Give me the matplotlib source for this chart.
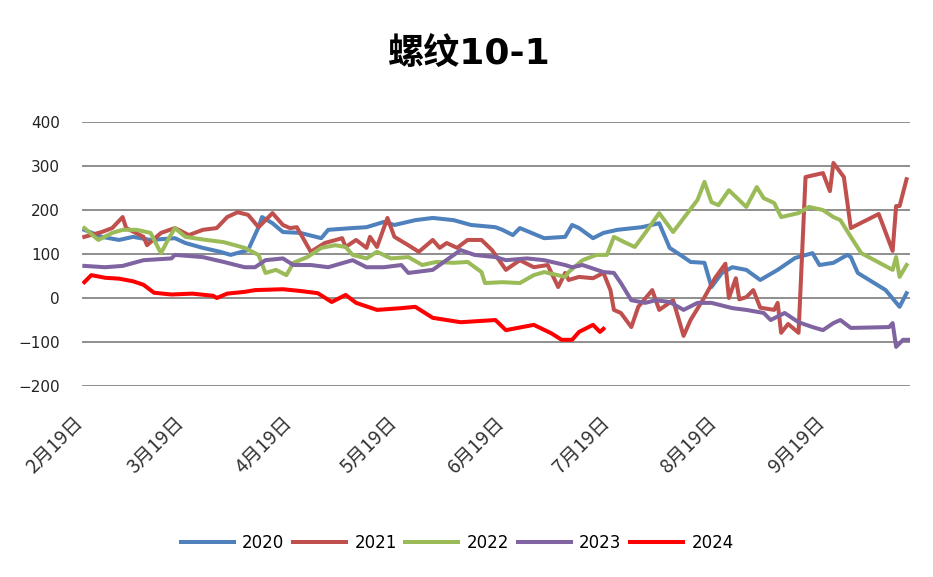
import matplotlib
matplotlib.use('Agg')
import matplotlib.pyplot as plt
import pandas as pd

# 螺纹 10-1 spread, one line per year, plotted on a shared Feb-Oct calendar
dates_2020 = ['02-18', '02-23', '02-28', '03-03', '03-08', '03-15', '03-18', '03-23', '03-28', '03-31',
              '04-05', '04-08', '04-09', '04-12', '04-15', '04-20', '04-26', '04-28', '05-05', '05-09',
              '05-14', '05-17', '05-23', '05-28', '06-03', '06-08', '06-15', '06-17', '06-20', '06-22',
              '06-29', '07-05', '07-07', '07-09', '07-13', '07-16', '07-20', '07-27', '08-01', '08-04',
              '08-08', '08-10', '08-14', '08-16', '08-19', '08-22', '08-26', '08-30', '09-04', '09-09',
              '09-14', '09-16', '09-20', '09-24', '09-25', '09-27', '10-05', '10-09', '10-11']
vals_2020 = [155, 139, 132, 139, 132, 136, 125, 114, 105, 98,
             109, 161, 184, 170, 150, 148, 136, 155, 159, 161,
             173, 166, 177, 182, 177, 166, 161, 155, 143, 159,
             136, 139, 166, 159, 136, 148, 155, 161, 170, 114,
             93, 82, 80, 25, 57, 70, 64, 41, 64, 91,
             102, 75, 80, 98, 93, 57, 18, -20, 11]

dates_2021 = ['02-18', '02-23', '02-26', '02-29', '03-01', '03-06', '03-07', '03-11', '03-15', '03-19',
              '03-23', '03-27', '03-30', '04-02', '04-05', '04-08', '04-12', '04-15', '04-17', '04-19',
              '04-23', '04-27', '05-02', '05-03', '05-06', '05-09', '05-10', '05-12', '05-15', '05-17',
              '05-21', '05-24', '05-28', '05-30', '06-01', '06-04', '06-07', '06-11', '06-14', '06-18',
              '06-22', '06-26', '06-30', '07-03', '07-05', '07-06', '07-09', '07-13', '07-16', '07-18',
              '07-19', '07-21', '07-24', '07-26', '07-30', '08-01', '08-05', '08-08', '08-10', '08-14',
              '08-17', '08-20', '08-21', '08-23', '08-24', '08-26', '08-28', '08-30', '09-03', '09-04',
              '09-05', '09-07', '09-10', '09-12', '09-17', '09-19', '09-20', '09-23', '09-25', '10-03',
              '10-07', '10-08', '10-09', '10-11']
vals_2021 = [139, 150, 159, 184, 159, 139, 120, 148, 159, 143,
             155, 159, 184, 195, 189, 161, 193, 166, 159, 161,
             105, 125, 136, 116, 132, 114, 139, 116, 182, 139,
             120, 105, 132, 114, 125, 114, 132, 132, 109, 64,
             86, 70, 75, 25, 57, 41, 48, 45, 57, 18,
             -27, -34, -66, -20, 18, -27, -5, -86, -50, 2,
             45, 78, 0, 45, -3, 2, 18, -22, -27, -11,
             -79, -59, -79, 275, 284, 243, 307, 275, 159, 191,
             107, 209, 209, 270]

dates_2022 = ['02-18', '02-22', '02-26', '02-29', '03-04', '03-08', '03-11', '03-13', '03-15', '03-18',
              '03-24', '03-29', '04-04', '04-08', '04-10', '04-13', '04-16', '04-18', '04-22', '04-26',
              '04-30', '05-03', '05-05', '05-09', '05-12', '05-16', '05-21', '05-25', '05-29', '06-03',
              '06-07', '06-11', '06-12', '06-17', '06-22', '06-26', '06-29', '07-05', '07-06', '07-10',
              '07-14', '07-17', '07-19', '07-22', '07-25', '07-28', '08-01', '08-05', '08-12', '08-14',
              '08-16', '08-18', '08-21', '08-26', '08-29', '08-31', '09-03', '09-05', '09-10', '09-13',
              '09-17', '09-20', '09-22', '09-25', '09-28', '10-07', '10-08', '10-09', '10-11']
vals_2022 = [159, 132, 148, 155, 155, 148, 102, 132, 159, 139,
             132, 127, 114, 98, 57, 64, 52, 80, 93, 114,
             120, 116, 98, 90, 105, 90, 93, 75, 82, 80,
             82, 59, 34, 36, 34, 52, 59, 48, 59, 86,
             98, 98, 139, 127, 116, 148, 193, 150, 223, 264,
             218, 211, 245, 207, 252, 227, 216, 184, 193, 207,
             200, 184, 177, 139, 102, 64, 93, 48, 75]

dates_2023 = ['02-18', '02-24', '02-29', '03-06', '03-14', '03-15', '03-23', '03-29', '04-04', '04-07',
              '04-10', '04-15', '04-18', '04-23', '04-28', '05-05', '05-09', '05-14', '05-19', '05-21',
              '05-28', '06-05', '06-09', '06-15', '06-18', '06-24', '06-29', '07-05', '07-07', '07-10',
              '07-16', '07-19', '07-21', '07-24', '07-28', '07-31', '08-04', '08-08', '08-12', '08-16',
              '08-22', '08-26', '08-31', '09-02', '09-06', '09-10', '09-14', '09-17', '09-20', '09-22',
              '09-25', '10-06', '10-07', '10-08', '10-10', '10-12']
vals_2023 = [73, 70, 73, 86, 90, 98, 93, 82, 70, 70,
             86, 90, 75, 75, 70, 86, 70, 70, 75, 57,
             64, 109, 98, 93, 86, 90, 86, 75, 70, 75,
             59, 57, 34, -5, -11, -5, -9, -27, -11, -11,
             -23, -27, -34, -50, -34, -55, -66, -73, -57, -50,
             -68, -66, -57, -111, -95, -95]

dates_2024 = ['02-18', '02-20', '02-24', '02-28', '03-03', '03-06', '03-09', '03-14', '03-20', '03-26',
              '03-27', '03-30', '04-04', '04-07', '04-15', '04-20', '04-25', '04-29', '05-03', '05-06',
              '05-12', '05-19', '05-23', '05-28', '06-05', '06-15', '06-18', '06-26', '07-01', '07-04',
              '07-07', '07-09', '07-13', '07-15', '07-16']
vals_2024 = [36, 52, 46, 44, 38, 30, 12, 8, 10, 5,
             0, 10, 14, 18, 20, 16, 11, -9, 7, -11,
             -27, -23, -20, -45, -55, -50, -73, -61, -80, -95,
             -95, -77, -61, -77, -70]

years = ['2020', '2021', '2022', '2023', '2024']
colors = ['#4F81BD', '#C0504D', '#9BBB59', '#8064A2', '#FF0000']
tick_months = [2, 3, 4, 5, 6, 7, 8, 9]

series = [(dates_2020, vals_2020), (dates_2021, vals_2021), (dates_2022, vals_2022),
          (dates_2023, vals_2023), (dates_2024, vals_2024)]

cjk = ['Noto Sans CJK SC', 'DejaVu Sans']

fig = plt.figure(figsize=(9.33, 5.77), dpi=100)
ax = fig.add_axes([0.0879, 0.331, 0.8875, 0.4575])

for (d, v), name, c in zip(series, years, colors):
    x = pd.to_datetime(['2024-' + s for s in d])
    ax.plot(x, v, color=c, lw=2.9, label=name, solid_joinstyle='round')

ax.set_ylim(-200, 400)
ax.set_yticks(range(-200, 401, 100))
ax.set_xlim(pd.Timestamp('2024-02-17 08:00'), pd.Timestamp('2024-10-12'))
ax.grid(axis='y', color='#868686', lw=1.3)
ax.set_axisbelow(True)
for s in ax.spines.values():
    s.set_visible(False)

ticks = [pd.Timestamp(2024, m, 19) for m in tick_months]
ax.set_xticks(ticks)
ax.set_xticklabels([f'{m}月19日' for m in tick_months], rotation=45, ha='right',
                   family=cjk, fontsize=14, color='#333333')
ax.tick_params(axis='x', length=0, pad=19)
ax.tick_params(axis='y', length=0, pad=16, labelsize=11, labelcolor='#222222')

fig.text(0.503, 0.905, '螺纹10-1', ha='center', va='center', fontsize=26,
         fontweight='bold', family=['DejaVu Sans', 'Noto Sans CJK SC'])

fig.legend(loc='center', bbox_to_anchor=(0.49, 0.059), ncol=5, frameon=False,
           fontsize=12, handlelength=3.2, handletextpad=0.5, columnspacing=0.5)

fig.savefig('out.png', dpi=100, facecolor='white')
